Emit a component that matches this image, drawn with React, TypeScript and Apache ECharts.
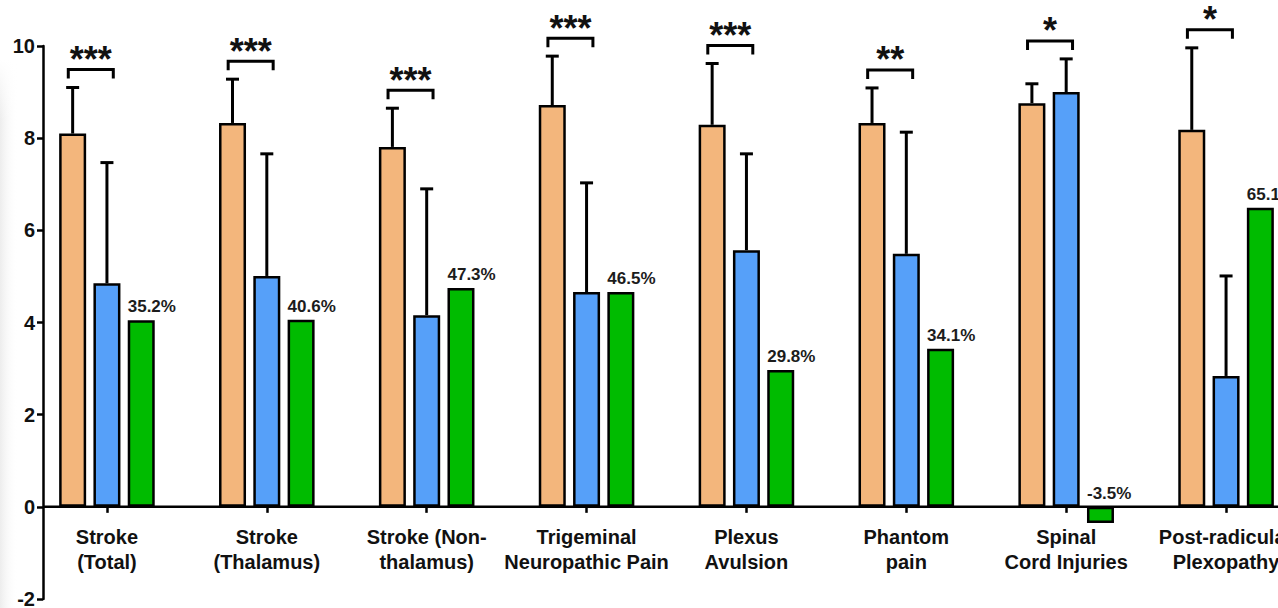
import React, { useEffect, useRef } from "react";
import * as echarts from "echarts";

// ---- Data ----
const categories = [
  "Stroke\n(Total)",
  "Stroke\n(Thalamus)",
  "Stroke (Non-\nthalamus)",
  "Trigeminal\nNeuropathic Pain",
  "Plexus\nAvulsion",
  "Phantom\npain",
  "Spinal\nCord Injuries",
  "Post-radicular\nPlexopathy",
];
const preValues = [8.1, 8.33, 7.81, 8.72, 8.29, 8.33, 8.76, 8.18];
const preErrTop = [9.1, 9.28, 8.65, 9.78, 9.62, 9.09, 9.18, 9.96];
const postValues = [4.85, 5.01, 4.16, 4.66, 5.57, 5.49, 9.0, 2.84];
const postErrTop = [7.47, 7.66, 6.9, 7.03, 7.66, 8.13, 9.72, 5.01];
const changeValues = [4.05, 4.06, 4.75, 4.66, 2.97, 3.43, -0.35, 6.49];
const changeLabels = ["35.2%", "40.6%", "47.3%", "46.5%", "29.8%", "34.1%", "-3.5%", "65.1%"];
const significance = ["***", "***", "***", "***", "***", "**", "*", "*"];
const yMin = -2;
const yMax = 10;
const yInterval = 2;

// ---- Style constants ----
const FONT = "'Liberation Sans', Arial, Helvetica, sans-serif";
const COLORS = ["#F3B67C", "#56A0F9", "#00BB00"];
const BAR_W = 27;
const BAR_GAP = 0.27;
const SPACING = BAR_W * (1 + BAR_GAP);
const AXIS_OFFSET = 16;
const GRID_LEFT = 27;
const GRID_TOP = 46;
const GRID_W = 1279;
const GRID_H = 553;
const X_AXIS_SHIFT = (GRID_H * (0 - yMin)) / (yMax - yMin);

function errorSeries(values: number[], tops: number[], offset: number) {
  return {
    type: "custom",
    z: 5,
    data: values.map((v, i) => [i, v, tops[i]]),
    renderItem: (params: any, api: any) => {
      const i = api.value(0);
      const x = api.coord([i, 0])[0] + offset;
      const y1 = api.coord([i, api.value(1)])[1];
      const y2 = api.coord([i, api.value(2)])[1];
      return {
        type: "group",
        children: [
          { type: "line", shape: { x1: x, y1, x2: x, y2 }, style: { stroke: "#000", lineWidth: 3 } },
          { type: "line", shape: { x1: x - 6.5, y1: y2, x2: x + 6.5, y2 }, style: { stroke: "#000", lineWidth: 3 } },
        ],
      };
    },
  };
}

const bracketSeries = {
  type: "custom",
  z: 6,
  data: preErrTop.map((v, i) => [i, Math.max(v, postErrTop[i])]),
  renderItem: (params: any, api: any) => {
    const i = api.value(0);
    const [cx, yb] = api.coord([i, api.value(1)]);
    const mid = cx - SPACING / 2 + 1;
    const yH = yb - 18;
    const yT = yb - 9;
    const half = 22.5;
    const ls = { stroke: "#000", lineWidth: 3, lineJoin: "miter" };
    return {
      type: "group",
      children: [
        {
          type: "polyline",
          shape: { points: [[mid - half, yT], [mid - half, yH], [mid + half, yH], [mid + half, yT]] },
          style: { ...ls, fill: null },
        },
        {
          type: "text",
          x: mid,
          y: yH - 10,
          style: {
            text: significance[params.dataIndex],
            fontSize: 36,
            fontWeight: "bold",
            fontFamily: FONT,
            fill: "#111",
            align: "center",
            verticalAlign: "middle",
          },
        },
      ],
    };
  },
};

const zeroLineSeries = {
  type: "custom",
  z: 7,
  data: [[0, 0]],
  renderItem: (params: any, api: any) => {
    const cs = params.coordSys;
    const y = api.coord([0, 0])[1];
    return {
      type: "line",
      shape: { x1: cs.x + AXIS_OFFSET, y1: y, x2: cs.x + cs.width, y2: y },
      style: { stroke: "#000", lineWidth: 2.5 },
    };
  },
};

export default function App() {
  const ref = useRef<HTMLDivElement>(null);
  useEffect(() => {
    if (!ref.current) return;
    const chart = echarts.init(ref.current, null, { renderer: "svg" });
    const barBase = {
      type: "bar",
      barWidth: BAR_W,
      barGap: `${Math.round(BAR_GAP * 100)}%`,
      z: 3,
    };
    chart.setOption({
      animation: false,
      backgroundColor: "#ffffff",
      graphic: [
        {
          type: "rect",
          silent: true,
          z: -10,
          shape: { x: 0, y: 60, width: 18, height: 548 },
          style: {
            fill: new echarts.graphic.LinearGradient(0, 0, 1, 0, [
              { offset: 0, color: "rgba(232,232,232,0.8)" },
              { offset: 1, color: "rgba(255,255,255,0)" },
            ]),
          },
        },
        {
          type: "rect",
          silent: true,
          z: -9,
          shape: { x: 0, y: 60, width: 18, height: 60 },
          style: {
            fill: new echarts.graphic.LinearGradient(0, 0, 0, 1, [
              { offset: 0, color: "rgba(255,255,255,1)" },
              { offset: 1, color: "rgba(255,255,255,0)" },
            ]),
          },
        },
      ],
      grid: {
        left: GRID_LEFT,
        top: GRID_TOP,
        width: GRID_W,
        height: GRID_H,
        containLabel: false,
        outerBoundsMode: "none",
      },
      xAxis: {
        type: "category",
        data: categories,
        offset: -X_AXIS_SHIFT,
        axisLine: { show: false, onZero: false },
        axisTick: { show: true, alignWithLabel: true, length: 6, lineStyle: { color: "#000", width: 2.5 } },
        axisLabel: {
          interval: 0,
          fontSize: 20,
          fontWeight: "bold",
          fontFamily: FONT,
          color: "#111",
          lineHeight: 25,
          margin: 18,
          align: "center",
        },
        splitLine: { show: false },
      },
      yAxis: {
        type: "value",
        min: yMin,
        max: yMax,
        interval: yInterval,
        offset: -AXIS_OFFSET,
        axisLine: { show: true, lineStyle: { color: "#000", width: 2.5 } },
        axisTick: { show: true, length: 6, lineStyle: { color: "#000", width: 2.5 } },
        axisLabel: { fontSize: 20, fontWeight: "bold", fontFamily: FONT, color: "#111", margin: 8 },
        splitLine: { show: false },
      },
      series: [
        {
          ...barBase,
          name: "Pre",
          data: preValues,
          itemStyle: { color: COLORS[0], borderColor: "#000", borderWidth: 2.5 },
        },
        {
          ...barBase,
          name: "Post",
          data: postValues,
          itemStyle: { color: COLORS[1], borderColor: "#000", borderWidth: 2.5 },
        },
        {
          ...barBase,
          name: "Change",
          data: changeValues,
          itemStyle: { color: COLORS[2], borderColor: "#000", borderWidth: 2.5 },
          label: {
            show: true,
            position: "top",
            distance: 5,
            align: "left",
            offset: [-BAR_W / 2, 0],
            formatter: (p: any) => changeLabels[p.dataIndex],
            fontSize: 17,
            fontWeight: "bold",
            fontFamily: FONT,
            color: "#1c1c1c",
          },
        },
        errorSeries(preValues, preErrTop, -SPACING),
        errorSeries(postValues, postErrTop, 0),
        bracketSeries,
        zeroLineSeries,
      ],
    });
    return () => chart.dispose();
  }, []);
  return (
    <div
      ref={ref}
      style={{ position: "fixed", left: 0, top: 0, width: 1278, height: 608, background: "#fff" }}
    />
  );
}
